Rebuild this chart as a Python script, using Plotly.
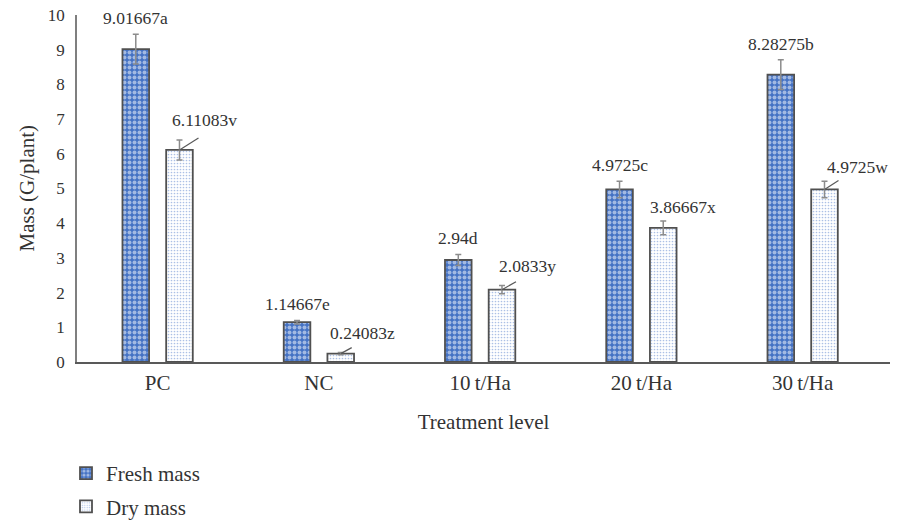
import plotly.graph_objects as go

# ---- data ----
categories = ["PC", "NC", "10\u2009t/Ha", "20\u2009t/Ha", "30\u2009t/Ha"]
fresh_mass = [9.01667, 1.14667, 2.94, 4.9725, 8.28275]
dry_mass = [6.11083, 0.24083, 2.0833, 3.86667, 4.9725]
fresh_err = [0.43, 0.05, 0.16, 0.24, 0.43]
dry_err = [0.29, 0.03, 0.12, 0.20, 0.24]
fresh_letters = ["a", "e", "d", "c", "b"]
dry_letters = ["v", "z", "y", "x", "w"]

# ---- style ----
BLUE = "#4472C4"
EDGE = "#505050"
TEXT = "#333333"
FONT = "Liberation Serif"
BAR_W = 0.165
FRESH_OFF = -0.218
DRY_OFF = 0.053
# dry label text offsets (px, right / up) from bar top, and leader line ends
dry_label_shift = [(25, 30), (22, 21), (26, 24), (20, 21), (33, 22)]
dry_leader = [(19, 12), (11, 6), (14, 8), None, (14, 9)]

fig = go.Figure()
fig.add_trace(go.Bar(
    x=categories, y=fresh_mass, name="Fresh mass", legendgroup="f",
    width=BAR_W, offset=FRESH_OFF,
    marker=dict(color=BLUE, line=dict(color=EDGE, width=1.8),
                pattern=dict(shape=".", fgcolor="white", bgcolor=BLUE,
                             size=5, solidity=0.5, fillmode="overlay")),
    error_y=dict(type="data", array=fresh_err, visible=True,
                 color="#8c8c8c", thickness=1.5, width=3),
))
fig.add_trace(go.Bar(
    x=categories, y=dry_mass, name="Dry mass", legendgroup="d",
    width=BAR_W, offset=DRY_OFF,
    marker=dict(color="white", line=dict(color=EDGE, width=1.8),
                pattern=dict(shape=".", fgcolor="#5a82cc", bgcolor="white",
                             size=3, solidity=0.25, fillmode="overlay")),
    error_y=dict(type="data", array=dry_err, visible=True,
                 color="#8c8c8c", thickness=1.5, width=3),
))

annotations = []
shapes = []
for i, (v, e, l) in enumerate(zip(fresh_mass, fresh_err, fresh_letters)):
    annotations.append(dict(
        x=i + FRESH_OFF + BAR_W / 2, y=v + e, xref="x", yref="y",
        text=f"{v}{l}", showarrow=False, yanchor="middle", yshift=16,
        font=dict(size=17.5, color=TEXT, family=FONT)))
for i, (v, l) in enumerate(zip(dry_mass, dry_letters)):
    xc = i + DRY_OFF + BAR_W / 2
    dx, dy = dry_label_shift[i]
    annotations.append(dict(
        x=xc, y=v, xref="x", yref="y", text=f"{v}{l}", showarrow=False,
        xanchor="center", yanchor="middle", xshift=dx, yshift=dy,
        font=dict(size=17.5, color=TEXT, family=FONT)))
    if dry_leader[i] is not None:
        lx, ly = dry_leader[i]
        shapes.append(dict(
            type="line", xref="x", yref="y",
            xsizemode="pixel", ysizemode="pixel", xanchor=xc, yanchor=v,
            x0=0, y0=0, x1=lx, y1=ly,
            line=dict(color="#595959", width=1.2)))

# y-axis title as rotated text to the left of the tick labels
annotations.append(dict(
    text="Mass (G/plant)", xref="paper", yref="paper", x=-51 / 813, y=0.5,
    xanchor="center", yanchor="middle", textangle=-90, showarrow=False,
    font=dict(size=21, color=TEXT, family=FONT)))

fig.update_layout(
    width=899, height=522,
    margin=dict(l=77, r=9, t=15, b=160, autoexpand=False),
    paper_bgcolor="white", plot_bgcolor="white",
    font=dict(family=FONT, size=21, color=TEXT),
    barmode="group",
    annotations=annotations, shapes=shapes,
    showlegend=True,
    legend=dict(orientation="v", xref="container", yref="container",
                x=66 / 899, y=1 - 453 / 522, xanchor="left", yanchor="top",
                tracegroupgap=3, bgcolor="rgba(0,0,0,0)",
                font=dict(size=21, family=FONT, color=TEXT)),
    xaxis=dict(showline=True, linecolor="#595959", linewidth=1.5,
               ticks="", showgrid=False, ticklabelstandoff=1,
               tickfont=dict(size=21),
               title=dict(text="Treatment level", standoff=20,
                          font=dict(size=21))),
    yaxis=dict(range=[0, 10], dtick=1, showline=True, linecolor="#7f7f7f",
               linewidth=1.5, ticks="", showgrid=False, zeroline=False,
               ticklabelstandoff=7, tickfont=dict(size=17)),
)

fig.write_html("out.html", config={"displayModeBar": False},
               post_script="document.body.style.margin='0';")
